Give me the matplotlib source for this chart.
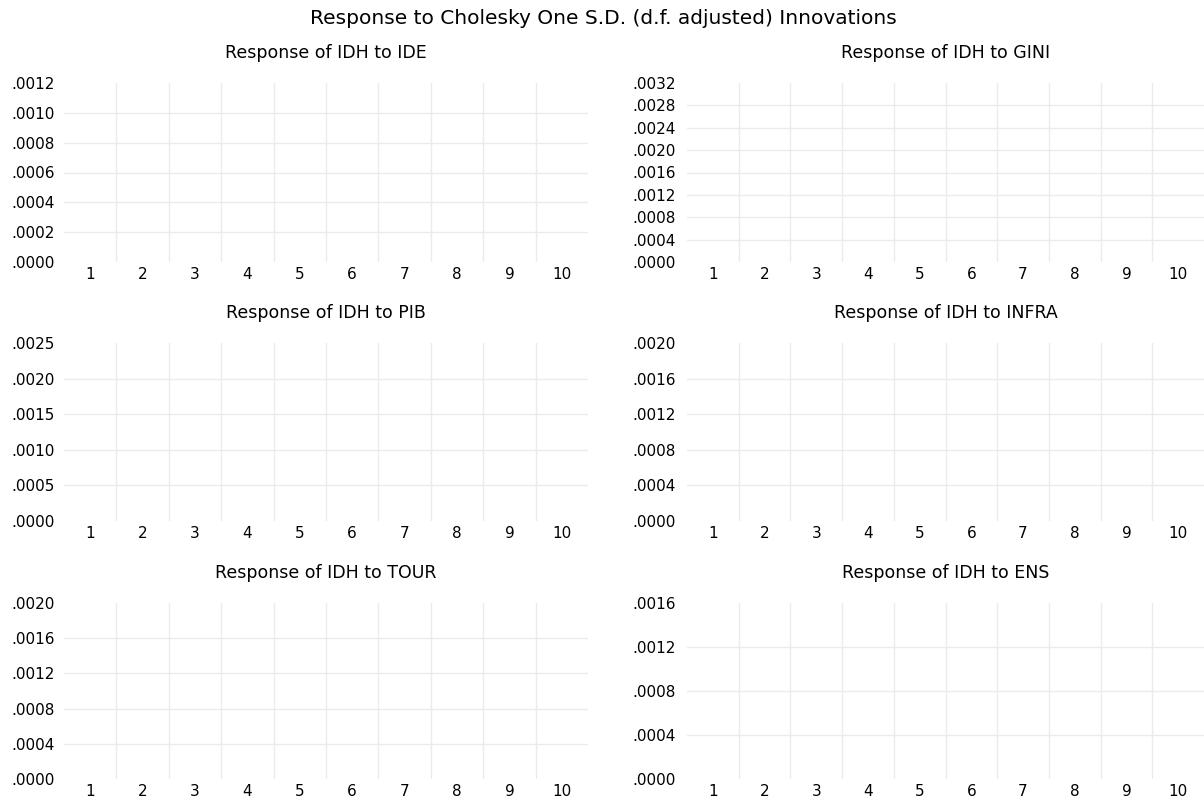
import matplotlib
matplotlib.use("Agg")
import matplotlib.pyplot as plt
from matplotlib.ticker import FixedLocator, FuncFormatter

plt.rcParams['font.family'] = ['DejaVu Sans']

periods = [1, 2, 3, 4, 5, 6, 7, 8, 9, 10]
suptitle = "Response to Cholesky One S.D. (d.f. adjusted) Innovations"
panel_titles = ["Response of IDH to IDE", "Response of IDH to GINI",
                "Response of IDH to PIB", "Response of IDH to INFRA",
                "Response of IDH to TOUR", "Response of IDH to ENS"]
y_ticks = [
    [0.0, 0.0002, 0.0004, 0.0006, 0.0008, 0.0010, 0.0012],
    [0.0, 0.0004, 0.0008, 0.0012, 0.0016, 0.0020, 0.0024, 0.0028, 0.0032],
    [0.0, 0.0005, 0.0010, 0.0015, 0.0020, 0.0025],
    [0.0, 0.0004, 0.0008, 0.0012, 0.0016, 0.0020],
    [0.0, 0.0004, 0.0008, 0.0012, 0.0016, 0.0020],
    [0.0, 0.0004, 0.0008, 0.0012, 0.0016],
]

W, H = 1204, 801
fig = plt.figure(figsize=(W / 100, H / 100), dpi=100)

cols = [(64, 588), (687, 1204)]
rows = [(83, 262), (343, 521), (603, 779)]

grid_color = "#ebebeb"

def fmt(v, pos):
    s = f"{v:.4f}"
    return s[1:] if s.startswith("0") else s

for i, title in enumerate(panel_titles):
    r, c = divmod(i, 2)
    x0, x1 = cols[c]
    t0, t1 = rows[r]
    ax = fig.add_axes([x0 / W, 1 - t1 / H, (x1 - x0) / W, (t1 - t0) / H])
    ticks = y_ticks[i]
    ax.set_xlim(periods[0] - 0.5, periods[-1] + 0.5)
    ax.set_ylim(ticks[0], ticks[-1])
    for sp in ax.spines.values():
        sp.set_visible(False)
    ax.set_xticks(periods)
    ax.set_xticklabels([str(p) for p in periods])
    ax.xaxis.set_minor_locator(FixedLocator([p + 0.5 for p in periods[:-1]]))
    ax.set_yticks(ticks)
    ax.yaxis.set_major_formatter(FuncFormatter(fmt))
    ax.tick_params(axis='both', which='both', length=0, labelsize=11, colors='black')
    ax.tick_params(axis='x', pad=3.5)
    ax.tick_params(axis='y', pad=6.5 if c == 0 else 8)
    ax.grid(False)
    for v in periods[:-1]:
        ax.axvline(v + 0.5, color=grid_color, lw=1.0, zorder=0)
    for v in ticks[1:-1]:
        ax.axhline(v, color=grid_color, lw=1.0, zorder=0)
    fig.text((x0 + x1) / 2 / W, 1 - (t0 - 30) / H, title, ha='center', va='center',
             fontsize=12.5)

fig.text(603 / W, 1 - 18 / H, suptitle, ha='center', va='center', fontsize=14.5)

fig.savefig("out.png", dpi=100, facecolor='white')
